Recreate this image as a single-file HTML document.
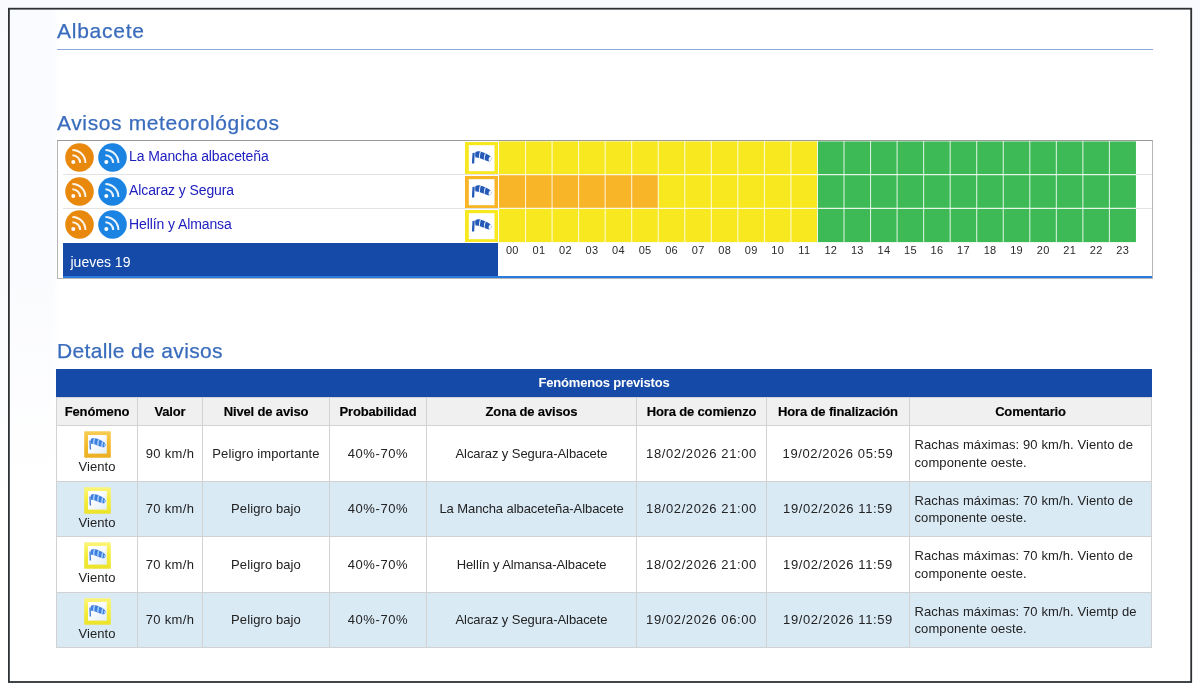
<!DOCTYPE html>
<html lang="es"><head><meta charset="utf-8"><title>Avisos - Albacete</title>
<style>
html,body{margin:0;padding:0}
body{width:1200px;height:691px;overflow:hidden;background:linear-gradient(180deg,#f9fafd 0,#fbfcfe 300px,#fff 520px);font-family:"Liberation Sans",sans-serif;color:#222;position:relative}
.frame{position:absolute;left:9px;top:9px;width:1183px;height:672px;background:linear-gradient(180deg,rgba(255,255,255,0) 0,rgba(255,255,255,0) 250px,#fff 480px),linear-gradient(90deg,#fafbfe 0,#fafbfe 42px,#fff 50px)}
.fr{position:absolute;left:0;top:0}
h2{position:absolute;margin:0;left:57px;font-weight:400;font-size:21px;line-height:24px;color:#3a6cbd;white-space:nowrap;-webkit-text-stroke:.25px #3a6cbd}
.rule{position:absolute;left:57px;top:49px;width:1096px;height:1px;background:#8da9d9}
.box{position:absolute;left:57px;top:140px;width:1094px;height:137px;border:1px solid #b5b5b5;border-top-color:#9a9a9a;background:#fff}
.sep{position:absolute;left:63px;width:1089px;height:1px;background:#e3e3e3}
.rss,.wind,.grid{position:absolute}
.zn{position:absolute;left:129px;font-size:14px;line-height:16px;color:#2020c0;white-space:nowrap;letter-spacing:-.1px;text-decoration:none}
.day{position:absolute;left:63px;top:242.500px;width:435px;height:33.500px;background:#164aa8}
.day span{position:absolute;left:7.500px;top:11px;font-size:14px;line-height:16px;color:#fff}
.bline{position:absolute;left:63px;top:275.500px;width:1089px;height:2.500px;background:#2b7ce0}
.hr{position:absolute;top:243px;letter-spacing:.3px;width:26.54px;text-align:center;font-size:11px;line-height:14px;color:#2a2a2a}
table{position:absolute;left:56px;top:369px;width:1095px;border-collapse:collapse;table-layout:fixed;font-size:13px}
caption{background:#164aa8;color:#fff;font-weight:700;letter-spacing:-.17px;height:28px;line-height:28px;font-size:13px}
th{background:#f0f0f0;height:27px;padding:0;border:1px solid #d2d2d2;font-weight:700;color:#000;letter-spacing:-.15px;-webkit-text-stroke:.15px #000}
td{letter-spacing:.1px;padding:0;border:1px solid #d2d2d2;text-align:center;line-height:18px;color:#222}
tr.r1 td{background:#d9eaf5}
td.com{text-align:left;padding:0 0 0 4.500px;line-height:17.500px}
td.fen{line-height:14px}
td.num{letter-spacing:.6px}
td.v{letter-spacing:.35px}
td.z{letter-spacing:-.08px}
.ti{display:block;margin:0 auto 2px}
td.fen{vertical-align:top;padding-top:5px}
</style></head><body>
<div class="frame"></div><svg class="fr" width="1200" height="691" viewBox="0 0 1200 691"><rect x="8.900" y="8.700" width="1182.300" height="673.300" fill="none" stroke="#2e3134" stroke-width="1.800"/></svg>
<h2 style="top:19px;letter-spacing:.75px">Albacete</h2>
<div class="rule"></div>
<h2 style="top:110.500px;letter-spacing:.62px">Avisos meteorológicos</h2>
<div class="box"></div>
<div class="sep" style="top:174.300px"></div><div class="sep" style="top:208px"></div>
<svg class="rss" style="left:65px;top:142.7px" width="29" height="29" viewBox="0 0 29 29"><circle cx="14.5" cy="14.5" r="14.3" fill="#e8890e"/><circle cx="8.300" cy="19" r="2" fill="#fff"/><path d="M7.400 12.200a7.800 7.800 0 0 1 7.800 7.800M7.400 7a13 13 0 0 1 13 13" fill="none" stroke="#fff" stroke-opacity=".9" stroke-width="2"/></svg><svg class="rss" style="left:97.8px;top:142.7px" width="29" height="29" viewBox="0 0 29 29"><circle cx="14.5" cy="14.5" r="14.3" fill="#1b84e2"/><circle cx="8.300" cy="19" r="2" fill="#fff"/><path d="M7.400 12.200a7.800 7.800 0 0 1 7.800 7.800M7.400 7a13 13 0 0 1 13 13" fill="none" stroke="#fff" stroke-opacity=".9" stroke-width="2"/></svg><a class="zn" href="#" style="top:148px">La Mancha albaceteña</a><svg class="wind" style="left:465.2px;top:142.10000000000002px" width="33" height="32" viewBox="0 0 33 32"><rect width="33" height="32" fill="#f7e81f"/><rect x="3.800" y="3.200" width="25.700" height="26" fill="#fff"/><path d="M7.500 10.900l2.200-.2l-.5 10.800l-2.300 .1z" fill="#2459b7"/><clipPath id="k0"><path d="M10.4 10.3C11.4 9.300 12.900 9 14.500 9.300C17.200 9.900 21 11.500 24.400 13.500C26 14.500 26.700 16 26.300 17.400C25.900 18.800 24.600 19.700 23 19.300C20 18.400 17.500 17.100 15 16.200C13.200 15.600 11.600 15.300 10.500 15.600C10 13.800 10 12 10.400 10.300Z"/></clipPath><path d="M10.4 10.3C11.4 9.300 12.900 9 14.500 9.300C17.200 9.900 21 11.500 24.400 13.500C26 14.500 26.700 16 26.300 17.400C25.900 18.800 24.600 19.700 23 19.300C20 18.400 17.500 17.100 15 16.200C13.200 15.600 11.600 15.300 10.500 15.600C10 13.800 10 12 10.400 10.300Z" fill="#2459b7"/><g clip-path="url(#k0)" stroke="#e4ecfb" fill="none"><path d="M15.800 8.500q-1.700 4-1.400 8.500" stroke-width="1.050"/><path d="M20.700 10.500q-1.800 4-1.500 8.500" stroke-width="1.050"/><ellipse cx="25.300" cy="16.700" rx="1.500" ry="2.500" transform="rotate(18 25.300 16.700)" fill="#f4f8ff" stroke="none"/></g></svg><svg class="rss" style="left:65px;top:176.5px" width="29" height="29" viewBox="0 0 29 29"><circle cx="14.5" cy="14.5" r="14.3" fill="#e8890e"/><circle cx="8.300" cy="19" r="2" fill="#fff"/><path d="M7.400 12.200a7.800 7.800 0 0 1 7.800 7.800M7.400 7a13 13 0 0 1 13 13" fill="none" stroke="#fff" stroke-opacity=".9" stroke-width="2"/></svg><svg class="rss" style="left:97.8px;top:176.5px" width="29" height="29" viewBox="0 0 29 29"><circle cx="14.5" cy="14.5" r="14.3" fill="#1b84e2"/><circle cx="8.300" cy="19" r="2" fill="#fff"/><path d="M7.400 12.200a7.800 7.800 0 0 1 7.800 7.800M7.400 7a13 13 0 0 1 13 13" fill="none" stroke="#fff" stroke-opacity=".9" stroke-width="2"/></svg><a class="zn" href="#" style="top:182px">Alcaraz y Segura</a><svg class="wind" style="left:465.2px;top:175.8px" width="33" height="32" viewBox="0 0 33 32"><rect width="33" height="32" fill="#f8b527"/><rect x="3.800" y="3.200" width="25.700" height="26" fill="#fff"/><path d="M7.500 10.900l2.200-.2l-.5 10.800l-2.300 .1z" fill="#2459b7"/><clipPath id="k1"><path d="M10.4 10.3C11.4 9.300 12.900 9 14.500 9.300C17.200 9.900 21 11.500 24.400 13.500C26 14.500 26.700 16 26.300 17.400C25.900 18.800 24.600 19.700 23 19.300C20 18.400 17.500 17.100 15 16.200C13.200 15.600 11.600 15.300 10.500 15.600C10 13.800 10 12 10.400 10.300Z"/></clipPath><path d="M10.4 10.3C11.4 9.300 12.900 9 14.500 9.300C17.200 9.900 21 11.500 24.400 13.500C26 14.500 26.700 16 26.300 17.400C25.900 18.800 24.600 19.700 23 19.300C20 18.400 17.500 17.100 15 16.200C13.200 15.600 11.600 15.300 10.500 15.600C10 13.800 10 12 10.400 10.300Z" fill="#2459b7"/><g clip-path="url(#k1)" stroke="#e4ecfb" fill="none"><path d="M15.800 8.500q-1.700 4-1.400 8.500" stroke-width="1.050"/><path d="M20.700 10.500q-1.800 4-1.500 8.500" stroke-width="1.050"/><ellipse cx="25.300" cy="16.700" rx="1.500" ry="2.500" transform="rotate(18 25.300 16.700)" fill="#f4f8ff" stroke="none"/></g></svg><svg class="rss" style="left:65px;top:210.3px" width="29" height="29" viewBox="0 0 29 29"><circle cx="14.5" cy="14.5" r="14.3" fill="#e8890e"/><circle cx="8.300" cy="19" r="2" fill="#fff"/><path d="M7.400 12.200a7.800 7.800 0 0 1 7.800 7.800M7.400 7a13 13 0 0 1 13 13" fill="none" stroke="#fff" stroke-opacity=".9" stroke-width="2"/></svg><svg class="rss" style="left:97.8px;top:210.3px" width="29" height="29" viewBox="0 0 29 29"><circle cx="14.5" cy="14.5" r="14.3" fill="#1b84e2"/><circle cx="8.300" cy="19" r="2" fill="#fff"/><path d="M7.400 12.200a7.800 7.800 0 0 1 7.800 7.800M7.400 7a13 13 0 0 1 13 13" fill="none" stroke="#fff" stroke-opacity=".9" stroke-width="2"/></svg><a class="zn" href="#" style="top:216px">Hellín y Almansa</a><svg class="wind" style="left:465.2px;top:209.60000000000002px" width="33" height="32" viewBox="0 0 33 32"><rect width="33" height="32" fill="#f7e81f"/><rect x="3.800" y="3.200" width="25.700" height="26" fill="#fff"/><path d="M7.500 10.900l2.200-.2l-.5 10.800l-2.300 .1z" fill="#2459b7"/><clipPath id="k2"><path d="M10.4 10.3C11.4 9.300 12.900 9 14.500 9.300C17.200 9.900 21 11.500 24.400 13.500C26 14.500 26.700 16 26.300 17.400C25.900 18.800 24.600 19.700 23 19.300C20 18.400 17.500 17.100 15 16.200C13.200 15.600 11.600 15.300 10.500 15.600C10 13.800 10 12 10.400 10.300Z"/></clipPath><path d="M10.4 10.3C11.4 9.300 12.900 9 14.500 9.300C17.200 9.900 21 11.500 24.400 13.500C26 14.500 26.700 16 26.300 17.400C25.900 18.800 24.600 19.700 23 19.300C20 18.400 17.500 17.100 15 16.200C13.200 15.600 11.600 15.300 10.500 15.600C10 13.800 10 12 10.400 10.300Z" fill="#2459b7"/><g clip-path="url(#k2)" stroke="#e4ecfb" fill="none"><path d="M15.800 8.500q-1.700 4-1.400 8.500" stroke-width="1.050"/><path d="M20.700 10.500q-1.800 4-1.500 8.500" stroke-width="1.050"/><ellipse cx="25.300" cy="16.700" rx="1.500" ry="2.500" transform="rotate(18 25.300 16.700)" fill="#f4f8ff" stroke="none"/></g></svg>
<svg class="grid" width="636.96" height="102" viewBox="0 0 636.96 102" style="left:499.1px;top:141.0px"><rect x="0.00" y="0.40" width="318.48" height="33.20" fill="#f7e81f"/><rect x="318.48" y="0.40" width="318.48" height="33.20" fill="#3dba55"/><rect x="0.00" y="33.60" width="159.24" height="33.80" fill="#f8b527"/><rect x="159.24" y="33.60" width="159.24" height="33.80" fill="#f7e81f"/><rect x="318.48" y="33.60" width="318.48" height="33.80" fill="#3dba55"/><rect x="0.00" y="67.40" width="318.48" height="33.70" fill="#f7e81f"/><rect x="318.48" y="67.40" width="318.48" height="33.70" fill="#3dba55"/><g stroke="#fff" stroke-opacity=".82" stroke-width="1.05" fill="none"><path d="M26.54 0V101.10"/><path d="M53.08 0V101.10"/><path d="M79.62 0V101.10"/><path d="M106.16 0V101.10"/><path d="M132.70 0V101.10"/><path d="M159.24 0V101.10"/><path d="M185.78 0V101.10"/><path d="M212.32 0V101.10"/><path d="M238.86 0V101.10"/><path d="M265.40 0V101.10"/><path d="M291.94 0V101.10"/><path d="M318.48 0V101.10"/><path d="M345.02 0V101.10"/><path d="M371.56 0V101.10"/><path d="M398.10 0V101.10"/><path d="M424.64 0V101.10"/><path d="M451.18 0V101.10"/><path d="M477.72 0V101.10"/><path d="M504.26 0V101.10"/><path d="M530.80 0V101.10"/><path d="M557.34 0V101.10"/><path d="M583.88 0V101.10"/><path d="M610.42 0V101.10"/><path d="M0 33.60H636.96" stroke-width="1.3"/><path d="M0 67.40H636.96" stroke-width="1.3"/></g></svg>
<div class="day"><span>jueves 19</span></div>
<span class="hr" style="left:499.10px">00</span><span class="hr" style="left:525.64px">01</span><span class="hr" style="left:552.18px">02</span><span class="hr" style="left:578.72px">03</span><span class="hr" style="left:605.26px">04</span><span class="hr" style="left:631.80px">05</span><span class="hr" style="left:658.34px">06</span><span class="hr" style="left:684.88px">07</span><span class="hr" style="left:711.42px">08</span><span class="hr" style="left:737.96px">09</span><span class="hr" style="left:764.50px">10</span><span class="hr" style="left:791.04px">11</span><span class="hr" style="left:817.58px">12</span><span class="hr" style="left:844.12px">13</span><span class="hr" style="left:870.66px">14</span><span class="hr" style="left:897.20px">15</span><span class="hr" style="left:923.74px">16</span><span class="hr" style="left:950.28px">17</span><span class="hr" style="left:976.82px">18</span><span class="hr" style="left:1003.36px">19</span><span class="hr" style="left:1029.90px">20</span><span class="hr" style="left:1056.44px">21</span><span class="hr" style="left:1082.98px">22</span><span class="hr" style="left:1109.52px">23</span>
<div class="bline"></div>
<h2 style="top:338.500px;letter-spacing:.35px">Detalle de avisos</h2>
<table>
<caption>Fenómenos previstos</caption>
<colgroup><col style="width:81px"><col style="width:65px"><col style="width:127px"><col style="width:97px"><col style="width:210px"><col style="width:130px"><col style="width:143px"><col style="width:242px"></colgroup>
<thead><tr><th>Fenómeno</th><th>Valor</th><th>Nivel de aviso</th><th>Probabilidad</th><th>Zona de avisos</th><th>Hora de comienzo</th><th>Hora de finalización</th><th>Comentario</th></tr></thead>
<tbody>
<tr class="r0" style="height:56px"><td class="fen"><svg class="ti" width="27" height="27" viewBox="0 0 27 27"><defs><linearGradient id="g0" x1="0" y1="0" x2="1" y2="1"><stop offset="0.3" stop-color="#ffffff"/><stop offset="1" stop-color="#e3edf9"/></linearGradient><linearGradient id="b0" x1="0" y1="0" x2="0" y2="1"><stop offset="0" stop-color="#f8cc55"/><stop offset="0.5" stop-color="#f4bb2c"/><stop offset="1" stop-color="#ecae22"/></linearGradient><clipPath id="q0"><path d="M10.4 10.3C11.4 9.300 12.900 9 14.500 9.300C17.200 9.900 21 11.500 24.400 13.500C26 14.500 26.700 16 26.300 17.400C25.900 18.800 24.600 19.700 23 19.300C20 18.400 17.500 17.100 15 16.200C13.200 15.600 11.600 15.300 10.500 15.600C10 13.800 10 12 10.400 10.300Z"/></clipPath></defs><rect x=".2" y=".2" width="26.600" height="26.600" rx=".8" fill="url(#b0)"/><rect x="4" y="4" width="18.800" height="18.600" fill="url(#g0)"/><path d="M5.300 9.500l1.300-.1l.5 9.100l-1.400 .1z" fill="#3f78d2"/><g transform="translate(-2.700 -1.500) scale(.92)"><path d="M10.4 10.3C11.4 9.300 12.900 9 14.500 9.300C17.200 9.900 21 11.500 24.400 13.500C26 14.500 26.700 16 26.300 17.400C25.900 18.800 24.600 19.700 23 19.300C20 18.400 17.500 17.100 15 16.200C13.200 15.600 11.600 15.300 10.500 15.600C10 13.800 10 12 10.400 10.300Z" fill="#3f80de"/><g clip-path="url(#q0)" stroke="#a6d0fb" fill="none" stroke-width="1.600"><path d="M14.900 8q-1.700 4-1.400 8.500"/><path d="M19.400 9.800q-1.800 4-1.500 8.500"/><path d="M23.700 12q-1.600 4-1.300 8.500"/><ellipse cx="25.500" cy="16.800" rx=".8" ry="1.600" transform="rotate(18 25.500 16.800)" fill="#9ccbf8" stroke="none"/></g></g></svg><div>Viento</div></td><td class="v">90 km/h</td><td>Peligro importante</td><td class="num">40%-70%</td><td class="z">Alcaraz y Segura-Albacete</td><td class="num">18/02/2026 21:00</td><td class="num">19/02/2026 05:59</td><td class="com">Rachas máximas: 90 km/h. Viento de<br>componente oeste.</td></tr>
<tr class="r1" style="height:55px"><td class="fen"><svg class="ti" width="27" height="27" viewBox="0 0 27 27"><defs><linearGradient id="g1" x1="0" y1="0" x2="1" y2="1"><stop offset="0.3" stop-color="#ffffff"/><stop offset="1" stop-color="#e3edf9"/></linearGradient><linearGradient id="b1" x1="0" y1="0" x2="0" y2="1"><stop offset="0" stop-color="#fbf57c"/><stop offset="0.5" stop-color="#f6ed38"/><stop offset="1" stop-color="#ebe22c"/></linearGradient><clipPath id="q1"><path d="M10.4 10.3C11.4 9.300 12.900 9 14.500 9.300C17.200 9.900 21 11.500 24.400 13.500C26 14.500 26.700 16 26.300 17.400C25.900 18.800 24.600 19.700 23 19.300C20 18.400 17.500 17.100 15 16.200C13.200 15.600 11.600 15.300 10.500 15.600C10 13.800 10 12 10.400 10.300Z"/></clipPath></defs><rect x=".2" y=".2" width="26.600" height="26.600" rx=".8" fill="url(#b1)"/><rect x="4" y="4" width="18.800" height="18.600" fill="url(#g1)"/><path d="M5.300 9.500l1.300-.1l.5 9.100l-1.400 .1z" fill="#3f78d2"/><g transform="translate(-2.700 -1.500) scale(.92)"><path d="M10.4 10.3C11.4 9.300 12.900 9 14.500 9.300C17.200 9.900 21 11.500 24.400 13.500C26 14.500 26.700 16 26.300 17.400C25.900 18.800 24.600 19.700 23 19.300C20 18.400 17.500 17.100 15 16.200C13.200 15.600 11.600 15.300 10.500 15.600C10 13.800 10 12 10.400 10.300Z" fill="#3f80de"/><g clip-path="url(#q1)" stroke="#a6d0fb" fill="none" stroke-width="1.600"><path d="M14.900 8q-1.700 4-1.400 8.500"/><path d="M19.400 9.800q-1.800 4-1.500 8.500"/><path d="M23.700 12q-1.600 4-1.300 8.500"/><ellipse cx="25.500" cy="16.800" rx=".8" ry="1.600" transform="rotate(18 25.500 16.800)" fill="#9ccbf8" stroke="none"/></g></g></svg><div>Viento</div></td><td class="v">70 km/h</td><td>Peligro bajo</td><td class="num">40%-70%</td><td class="z">La Mancha albaceteña-Albacete</td><td class="num">18/02/2026 21:00</td><td class="num">19/02/2026 11:59</td><td class="com">Rachas máximas: 70 km/h. Viento de<br>componente oeste.</td></tr>
<tr class="r0" style="height:56px"><td class="fen"><svg class="ti" width="27" height="27" viewBox="0 0 27 27"><defs><linearGradient id="g2" x1="0" y1="0" x2="1" y2="1"><stop offset="0.3" stop-color="#ffffff"/><stop offset="1" stop-color="#e3edf9"/></linearGradient><linearGradient id="b2" x1="0" y1="0" x2="0" y2="1"><stop offset="0" stop-color="#fbf57c"/><stop offset="0.5" stop-color="#f6ed38"/><stop offset="1" stop-color="#ebe22c"/></linearGradient><clipPath id="q2"><path d="M10.4 10.3C11.4 9.300 12.900 9 14.500 9.300C17.200 9.900 21 11.500 24.400 13.500C26 14.500 26.700 16 26.300 17.400C25.900 18.800 24.600 19.700 23 19.300C20 18.400 17.500 17.100 15 16.200C13.200 15.600 11.600 15.300 10.500 15.600C10 13.800 10 12 10.400 10.300Z"/></clipPath></defs><rect x=".2" y=".2" width="26.600" height="26.600" rx=".8" fill="url(#b2)"/><rect x="4" y="4" width="18.800" height="18.600" fill="url(#g2)"/><path d="M5.300 9.500l1.300-.1l.5 9.100l-1.400 .1z" fill="#3f78d2"/><g transform="translate(-2.700 -1.500) scale(.92)"><path d="M10.4 10.3C11.4 9.300 12.900 9 14.500 9.300C17.200 9.900 21 11.500 24.400 13.500C26 14.500 26.700 16 26.300 17.400C25.900 18.800 24.600 19.700 23 19.300C20 18.400 17.500 17.100 15 16.200C13.200 15.600 11.600 15.300 10.500 15.600C10 13.800 10 12 10.400 10.300Z" fill="#3f80de"/><g clip-path="url(#q2)" stroke="#a6d0fb" fill="none" stroke-width="1.600"><path d="M14.900 8q-1.700 4-1.400 8.500"/><path d="M19.400 9.800q-1.800 4-1.500 8.500"/><path d="M23.700 12q-1.600 4-1.300 8.500"/><ellipse cx="25.500" cy="16.800" rx=".8" ry="1.600" transform="rotate(18 25.500 16.800)" fill="#9ccbf8" stroke="none"/></g></g></svg><div>Viento</div></td><td class="v">70 km/h</td><td>Peligro bajo</td><td class="num">40%-70%</td><td class="z">Hellín y Almansa-Albacete</td><td class="num">18/02/2026 21:00</td><td class="num">19/02/2026 11:59</td><td class="com">Rachas máximas: 70 km/h. Viento de<br>componente oeste.</td></tr>
<tr class="r1" style="height:55px"><td class="fen"><svg class="ti" width="27" height="27" viewBox="0 0 27 27"><defs><linearGradient id="g3" x1="0" y1="0" x2="1" y2="1"><stop offset="0.3" stop-color="#ffffff"/><stop offset="1" stop-color="#e3edf9"/></linearGradient><linearGradient id="b3" x1="0" y1="0" x2="0" y2="1"><stop offset="0" stop-color="#fbf57c"/><stop offset="0.5" stop-color="#f6ed38"/><stop offset="1" stop-color="#ebe22c"/></linearGradient><clipPath id="q3"><path d="M10.4 10.3C11.4 9.300 12.900 9 14.500 9.300C17.200 9.900 21 11.500 24.400 13.500C26 14.500 26.700 16 26.300 17.400C25.900 18.800 24.600 19.700 23 19.300C20 18.400 17.500 17.100 15 16.200C13.200 15.600 11.600 15.300 10.500 15.600C10 13.800 10 12 10.400 10.300Z"/></clipPath></defs><rect x=".2" y=".2" width="26.600" height="26.600" rx=".8" fill="url(#b3)"/><rect x="4" y="4" width="18.800" height="18.600" fill="url(#g3)"/><path d="M5.300 9.500l1.300-.1l.5 9.100l-1.400 .1z" fill="#3f78d2"/><g transform="translate(-2.700 -1.500) scale(.92)"><path d="M10.4 10.3C11.4 9.300 12.900 9 14.500 9.300C17.200 9.900 21 11.500 24.400 13.500C26 14.500 26.700 16 26.300 17.400C25.900 18.800 24.600 19.700 23 19.300C20 18.400 17.500 17.100 15 16.200C13.200 15.600 11.600 15.300 10.500 15.600C10 13.800 10 12 10.400 10.300Z" fill="#3f80de"/><g clip-path="url(#q3)" stroke="#a6d0fb" fill="none" stroke-width="1.600"><path d="M14.900 8q-1.700 4-1.400 8.500"/><path d="M19.400 9.800q-1.800 4-1.500 8.500"/><path d="M23.700 12q-1.600 4-1.300 8.500"/><ellipse cx="25.500" cy="16.800" rx=".8" ry="1.600" transform="rotate(18 25.500 16.800)" fill="#9ccbf8" stroke="none"/></g></g></svg><div>Viento</div></td><td class="v">70 km/h</td><td>Peligro bajo</td><td class="num">40%-70%</td><td class="z">Alcaraz y Segura-Albacete</td><td class="num">19/02/2026 06:00</td><td class="num">19/02/2026 11:59</td><td class="com">Rachas máximas: 70 km/h. Viemtp de<br>componente oeste.</td></tr>
</tbody></table>
</body></html>
